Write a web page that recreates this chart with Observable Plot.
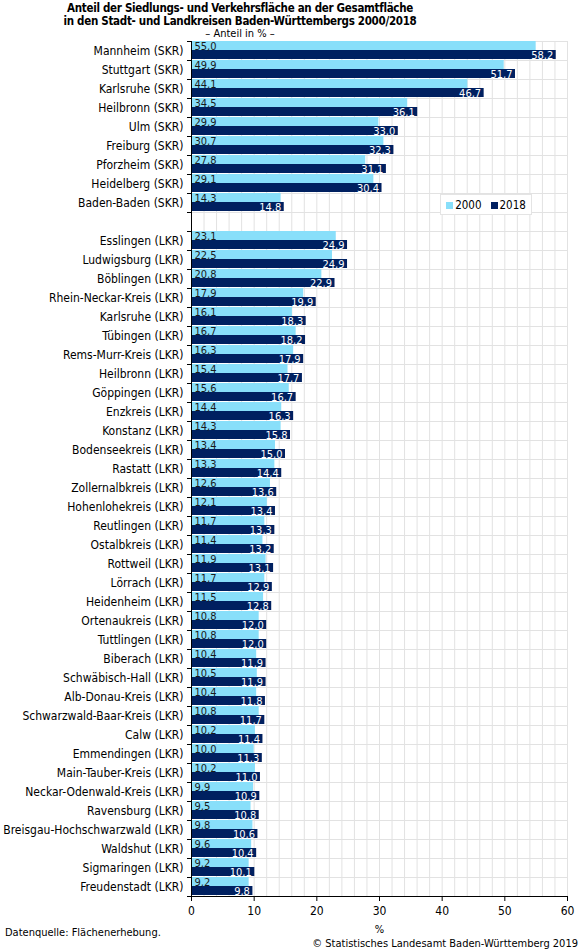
<!DOCTYPE html>
<html><head><meta charset="utf-8">
<script src="https://cdn.jsdelivr.net/npm/d3@7"></script>
<script src="https://cdn.jsdelivr.net/npm/@observablehq/plot@0.6"></script>
<style>
body{margin:0;background:#fff;color:#000;font-family:"DejaVu Sans Condensed","DejaVu Sans",sans-serif;}
#wrap{position:relative;width:581px;height:949px;overflow:hidden;}
#head{height:38px;position:relative;}
.tl{position:absolute;left:0;width:480px;text-align:center;white-space:nowrap;}
.b{font-weight:bold;font-size:11.5px;letter-spacing:-0.3px;line-height:13px;}
.s{font-size:11px;line-height:11px;}
.foot{position:absolute;font-size:11px;white-space:nowrap;}
#legend{position:absolute;left:440px;top:194px;width:90px;height:19px;background:#fff;border:1px solid #e4e4e4;display:flex;align-items:center;justify-content:center;gap:9px;font-size:11.5px;}
#legend span.sw{display:inline-block;width:7px;height:7px;margin-right:2px;vertical-align:0px;}
.ylab text{font-size:12px;}
.xlab text{font-size:12px;}
</style></head><body>
<div id="wrap">
<div id="head">
<div class="tl b" style="top:2px">Anteil der Siedlungs- und Verkehrsfläche an der Gesamtfläche</div>
<div class="tl b" style="top:15px">in den Stadt- und Landkreisen Baden-Württembergs 2000/2018</div>
<div class="tl s" style="top:28px">– Anteil in % –</div>
</div>
<div id="chart"></div>
<div id="legend"></div>
<div class="foot" style="left:5px;top:926px">Datenquelle: Flächenerhebung.</div>
<div class="foot" style="right:3px;top:937px">© Statistisches Landesamt Baden-Württemberg 2019</div>
</div>
<script>
const years = ["2000", "2018"];
const colors = ["#88dffa", "#002060"];

const skrNames = ["Mannheim (SKR)", "Stuttgart (SKR)", "Karlsruhe (SKR)", "Heilbronn (SKR)", "Ulm (SKR)", "Freiburg (SKR)", "Pforzheim (SKR)", "Heidelberg (SKR)", "Baden-Baden (SKR)"];
const skr2000 = [55.0, 49.9, 44.1, 34.5, 29.9, 30.7, 27.8, 29.1, 14.3];
const skr2018 = [58.2, 51.7, 46.7, 36.1, 33.0, 32.3, 31.1, 30.4, 14.8];

const lkrNames = ["Esslingen (LKR)", "Ludwigsburg (LKR)", "Böblingen (LKR)", "Rhein-Neckar-Kreis (LKR)", "Karlsruhe (LKR)", "Tübingen (LKR)", "Rems-Murr-Kreis (LKR)", "Heilbronn (LKR)", "Göppingen (LKR)", "Enzkreis (LKR)", "Konstanz (LKR)", "Bodenseekreis (LKR)", "Rastatt (LKR)", "Zollernalbkreis (LKR)", "Hohenlohekreis (LKR)", "Reutlingen (LKR)", "Ostalbkreis (LKR)", "Rottweil (LKR)", "Lörrach (LKR)", "Heidenheim (LKR)", "Ortenaukreis (LKR)", "Tuttlingen (LKR)", "Biberach (LKR)", "Schwäbisch-Hall (LKR)", "Alb-Donau-Kreis (LKR)", "Schwarzwald-Baar-Kreis (LKR)", "Calw (LKR)", "Emmendingen (LKR)", "Main-Tauber-Kreis (LKR)", "Neckar-Odenwald-Kreis (LKR)", "Ravensburg (LKR)", "Breisgau-Hochschwarzwald (LKR)", "Waldshut (LKR)", "Sigmaringen (LKR)", "Freudenstadt (LKR)"];
const lkr2000 = [23.1, 22.5, 20.8, 17.9, 16.1, 16.7, 16.3, 15.4, 15.6, 14.4, 14.3, 13.4, 13.3, 12.6, 12.1, 11.7, 11.4, 11.9, 11.7, 11.5, 10.8, 10.8, 10.4, 10.5, 10.4, 10.8, 10.2, 10.0, 10.2, 9.9, 9.5, 9.8, 9.6, 9.2, 9.2];
const lkr2018 = [24.9, 24.9, 22.9, 19.9, 18.3, 18.2, 17.9, 17.7, 16.7, 16.3, 15.8, 15.0, 14.4, 13.6, 13.4, 13.3, 13.2, 13.1, 12.9, 12.8, 12.0, 12.0, 11.9, 11.9, 11.8, 11.7, 11.4, 11.3, 11.0, 10.9, 10.8, 10.6, 10.4, 10.1, 9.8];

const xTicks = [0, 10, 20, 30, 40, 50, 60];
const gapName = " ";

const domain = [...skrNames, gapName, ...lkrNames];
const names = [...skrNames, ...lkrNames];
const v2000 = [...skr2000, ...lkr2000];
const v2018 = [...skr2018, ...lkr2018];
const rows2000 = names.map((n, i) => ({name: n, v: v2000[i]}));
const rows2018 = names.map((n, i) => ({name: n, v: v2018[i]}));
const fmt = v => v.toFixed(1).replace(".", ",");

const W = 581, H = 911, mT = 3, mB = 53, mL = 191, mR = 14;
const half = (H - mT - mB) / domain.length / 2;
const lastName = domain[domain.length - 1];
const gridColor = "#e2e2e2";

const chart = Plot.plot({
  width: W, height: H,
  marginTop: mT, marginBottom: mB, marginLeft: mL, marginRight: mR,
  style: {fontFamily: '"DejaVu Sans Condensed","DejaVu Sans",sans-serif', fontSize: "11px", color: "#000", background: "transparent", overflow: "visible"},
  x: {domain: [0, 60]},
  y: {domain, padding: 0},
  marks: [
    Plot.gridX({interval: 2, stroke: gridColor, strokeOpacity: 1}),
    Plot.gridY({dy: -half, stroke: gridColor, strokeOpacity: 1}),
    Plot.barX(rows2000, {x: "v", y: "name", fill: colors[0], insetTop: 0, insetBottom: 10}),
    Plot.barX(rows2018, {x: "v", y: "name", fill: colors[1], insetTop: 9, insetBottom: 1}),
    Plot.text(rows2000, {x: 0, y: "name", text: d => fmt(d.v), textAnchor: "start", dx: 3, dy: -half / 2, fill: "#1a1a1a", fontSize: 11}),
    Plot.text(rows2018, {x: "v", y: "name", text: d => fmt(d.v), textAnchor: "end", dx: -3, dy: half / 2 - 0.5, fill: "#fff", fontSize: 11}),
    Plot.axisY({tickSize: 0, tickPadding: 8, label: null, className: "ylab"}),
    Plot.axisY({tickSize: 4, tickFormat: () => "", dy: -half, label: null, stroke: "#000"}),
    Plot.axisY([lastName], {tickSize: 4, tickFormat: () => "", dy: half, label: null}),
    Plot.gridY([lastName], {dy: half, stroke: "#000", strokeOpacity: 1}),
    Plot.ruleX([0], {stroke: "#000"}),
    Plot.axisX({ticks: xTicks, tickSize: 5, tickPadding: 5, label: "%", labelAnchor: "center", labelArrow: "none", labelOffset: 36, className: "xlab"})
  ]
});
document.getElementById("chart").appendChild(chart);

const leg = document.getElementById("legend");
years.forEach((y, i) => {
  const item = document.createElement("div");
  item.innerHTML = `<span class="sw" style="background:${colors[i]}"></span>${y}`;
  leg.appendChild(item);
});
</script>
</body></html>
